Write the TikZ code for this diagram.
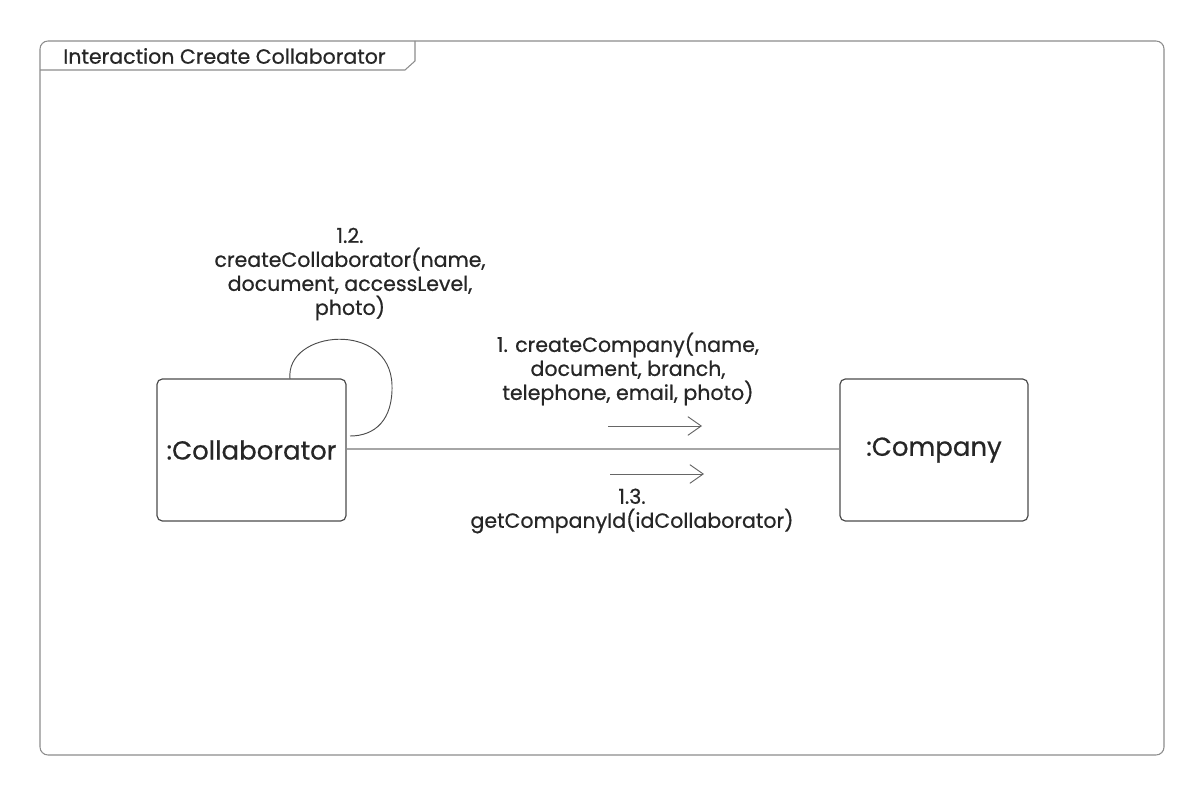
\documentclass[tikz,border=0pt]{standalone}
\usepackage{fontspec}
\setmainfont{Poppins}[RawFeature={embolden=0.6}]
\usetikzlibrary{arrows.meta}
\begin{document}
\begin{tikzpicture}[x=0.75pt,y=-0.75pt,
  frameline/.style={draw=black!45, line width=0.8pt},
  obj/.style={draw=black!70, line width=0.9pt, rounded corners=4pt},
  lbl/.style={align=center, font=\fontsize{15.4pt}{18pt}\selectfont, text=black!85, inner sep=0pt},
  objtxt/.style={font=\fontsize{19.5pt}{22pt}\selectfont, text=black!85},
  link/.style={draw=black!35, line width=0.9pt},
  msg/.style={draw=black!60, line width=0.7pt, -{Straight Barb[length=10pt,width=14pt,line width=0.7pt]}}
]
\useasboundingbox (0,0) rectangle (1204,788);
% frame
\draw[frameline, rounded corners=6pt] (40,41) rectangle (1164,755);
\draw[frameline] (40,70) -- (405,70) -- (415,61) -- (415,41);
\node[anchor=west, font=\fontsize{15.4pt}{18pt}\selectfont, text=black!85, inner sep=0pt] (title) at (63,56) {Interaction Create Collaborator};
% objects
\node[obj, minimum width=189*0.75pt, minimum height=142*0.75pt, objtxt] (col) at (251.5,450) {:Collaborator};
\node[obj, minimum width=188*0.75pt, minimum height=142*0.75pt, objtxt] (comp) at (934,450) {:Company};
% link
\draw[link] (col.east |- 0,449) -- (comp.west |- 0,449);
% self loop
\coordinate (ls) at (290,379);
\coordinate (le) at (350,436);
\draw[draw=black!70, line width=0.7pt] (ls) .. controls (285,330) and (390,320) .. (392,385) .. controls (393,420) and (375,436) .. (le);
% messages
\coordinate (m1s) at (608,426);
\coordinate (m1e) at (702,426);
\coordinate (m2s) at (610,474);
\coordinate (m2e) at (704,474);
\draw[msg] (m1s) -- (m1e);
\draw[msg] (m2s) -- (m2e);
% labels
\node[lbl] (l12) at (350,274) {1.2.\\createCollaborator(name,\\document, accessLevel,\\photo)};
\node[lbl] (l1) at (628,369) {1. createCompany(name,\\document, branch,\\telephone, email, photo)};
\node[lbl] (l13) at (632,511) {1.3.\\getCompanyId(idCollaborator)};
\end{tikzpicture}
\end{document}
